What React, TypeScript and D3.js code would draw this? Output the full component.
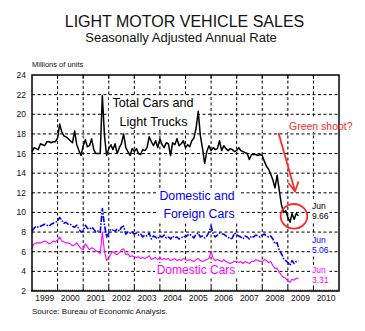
import React from "react";
import * as d3 from "d3";

const START_YEAR = 1999;
const yearLabels = ["1999","2000","2001","2002","2003","2004","2005","2006","2007","2008","2009","2010"];
const yTicks = [2,4,6,8,10,12,14,16,18,20,22,24];

// Monthly values, Jan 1999 - Jun 2009 (millions of units, SAAR)
const totalCarsTrucks = [
  16.2,16.6,16.5,16.4,17.0,16.9,16.8,17.2,17.2,17.1,17.2,17.2,
  17.6,19.0,18.2,17.8,17.7,17.5,17.3,17.1,18.3,16.9,16.3,15.8,
  16.8,17.4,16.7,16.8,17.5,16.4,16.0,16.0,16.0,21.9,17.8,15.8,
  16.5,16.9,16.4,17.0,16.0,16.6,17.0,18.0,16.6,16.2,15.8,16.5,
  16.2,16.5,16.0,15.9,16.4,16.3,16.6,17.7,17.2,16.8,17.3,16.6,
  17.5,16.9,16.6,17.1,17.0,15.8,17.1,16.9,17.5,16.8,17.0,17.3,
  16.6,16.9,16.7,17.3,17.6,18.6,20.3,17.8,16.5,15.0,16.2,16.8,
  16.3,16.6,16.4,16.5,17.3,16.3,16.8,16.5,16.3,16.5,16.4,16.2,
  16.3,16.6,16.3,16.2,16.1,16.0,15.4,15.9,15.9,15.9,15.8,15.9,
  15.8,15.2,14.7,14.4,13.9,13.3,12.5,13.8,12.2,10.8,10.0,10.2,
  9.5,9.0,9.9,9.3,9.9,9.66,
];

const domesticForeignCars = [
  8.1,8.4,8.6,8.5,8.6,8.7,8.8,8.7,8.6,8.8,8.9,9.0,
  9.1,9.5,9.2,8.9,9.0,8.8,8.8,8.6,8.5,8.7,8.3,8.0,
  8.1,8.7,8.4,8.3,8.5,8.3,8.0,8.1,8.0,10.4,8.7,7.5,
  7.9,8.3,8.2,8.1,8.3,8.1,8.5,8.6,7.8,8.0,7.9,8.0,
  7.8,7.9,7.7,7.8,7.5,7.7,7.6,7.9,7.3,7.6,7.5,7.3,
  7.6,7.5,7.7,7.4,7.5,7.3,7.6,7.4,7.5,7.3,7.4,7.6,
  7.5,7.7,7.8,7.6,7.4,7.8,7.9,7.5,7.6,7.4,7.6,8.0,
  8.6,7.8,7.5,7.7,7.9,7.8,7.8,7.6,7.5,7.3,7.4,7.9,
  7.7,7.6,7.5,7.3,7.6,7.5,7.3,7.6,7.5,7.7,7.6,7.5,
  7.7,7.8,7.6,7.5,7.6,7.3,6.8,6.9,6.1,5.8,5.3,5.1,
  4.9,4.6,5.1,4.8,5.0,5.06,
];

const domesticCars = [
  6.5,6.8,6.9,6.9,6.9,7.0,7.1,7.0,6.8,6.9,7.1,7.0,
  7.2,7.5,7.1,7.0,6.9,6.9,6.8,6.6,6.7,6.9,6.6,6.3,
  6.2,6.8,6.5,6.2,6.4,6.3,6.1,6.0,5.8,8.0,6.0,5.1,
  5.4,5.8,6.0,5.8,5.7,5.9,6.2,6.3,5.7,5.8,5.5,5.6,
  5.5,5.4,5.5,5.3,5.4,5.3,5.4,5.6,5.2,5.3,5.4,5.2,
  5.4,5.2,5.3,5.2,5.3,5.1,5.2,5.3,5.1,5.2,5.1,5.3,
  5.2,5.1,5.2,5.1,5.0,5.2,5.3,5.1,5.0,5.1,5.2,5.3,
  6.0,5.3,5.1,5.2,5.1,5.0,5.2,5.0,4.9,4.8,4.9,5.0,
  5.0,4.9,5.0,4.8,5.0,4.9,4.8,5.0,5.0,5.2,5.1,5.0,
  5.0,5.2,5.1,4.9,5.0,4.6,4.3,4.3,3.9,3.6,3.4,3.3,
  3.0,2.9,3.2,3.1,3.3,3.31,
];

const lastLabels = [
  { series: "total", text: "9.66", color: "#000000" },
  { series: "cars", text: "5.06", color: "#0000ff" },
  { series: "domestic", text: "3.31", color: "#ff00ff" },
];

const W = 365, H = 331;
const L = 32, R = 339, T = 75, B = 291;
const FONT = "'Liberation Sans', Arial, Helvetica, sans-serif";
const RED = "#ff2a2a";

export default function App() {
  const x = d3.scaleTime()
    .domain([new Date(START_YEAR, 0, 1), new Date(2011, 0, 1)])
    .range([L, R]);
  const y = d3.scaleLinear().domain([2, 24]).range([B, T]);
  const monthDate = (i: number) => new Date(START_YEAR, i, 1);
  const line = d3.line<number>()
    .x((_, i) => x(monthDate(i)))
    .y((d) => y(d));

  const yearBounds = d3.range(1, yearLabels.length).map((i) => new Date(START_YEAR + i, 0, 1));
  const months = d3.timeMonth.range(new Date(START_YEAR, 0, 1), new Date(2011, 0, 1));

  const lastX = x(monthDate(totalCarsTrucks.length - 1));
  const lastTotal = y(totalCarsTrucks[totalCarsTrucks.length - 1]);
  const endBases = [208.5, 243, 273];

  return (
    <svg width={W} height={H} style={{ position: "absolute", left: 0, top: 0, background: "#fff" }} fontFamily={FONT}>
      <rect x={0} y={0} width={W} height={H} fill="#fff" />
      <text x={184.5} y={27} textAnchor="middle" fontSize={16} fill="#111">LIGHT MOTOR VEHICLE SALES</text>
      <text x={181} y={41.5} textAnchor="middle" fontSize={13} fill="#111">Seasonally Adjusted Annual Rate</text>
      <text x={32} y={67} fontSize={7.5} fill="#111">Millions of units</text>

      {/* grid */}
      {yTicks.filter((t) => t > 2 && t < 24).map((t) => (
        <line key={"h" + t} x1={L} x2={R} y1={y(t)} y2={y(t)} stroke="#000" strokeWidth={1} strokeDasharray="3 2.5" />
      ))}
      {yearBounds.map((d, i) => (
        <line key={"v" + i} x1={x(d)} x2={x(d)} y1={T} y2={B} stroke="#000" strokeWidth={1} strokeDasharray="3 2.5" />
      ))}
      {/* minor month ticks at bottom */}
      {months.map((d, i) => (
        <line key={"m" + i} x1={x(d)} x2={x(d)} y1={B} y2={B - 1.5} stroke="#000" strokeWidth={0.6} />
      ))}
      {yearBounds.map((d, i) => (
        <g key={"t" + i}>
          <line x1={x(d)} x2={x(d)} y1={B} y2={B - 4} stroke="#000" strokeWidth={1} />
          <line x1={x(d)} x2={x(d)} y1={T} y2={T + 4} stroke="#000" strokeWidth={1} />
        </g>
      ))}

      {/* white boxes behind labels */}
      <rect x={109} y={96} width={88} height={33} fill="#fff" />
      <rect x={156} y={188} width={85} height={33} fill="#fff" />
      <rect x={155} y={263} width={83} height={14} fill="#fff" />
      <rect x={287} y={119} width={67} height={13} fill="#fff" />
      {endBases.map((b, i) => (
        <rect key={"wb" + i} x={310.5} y={b - 7.5} width={19} height={20} fill="#fff" />
      ))}

      {/* y labels */}
      {yTicks.map((t) => (
        <text key={"yl" + t} x={26} y={y(t) + 3} textAnchor="end" fontSize={8.5} fill="#111">{t}</text>
      ))}
      {/* x labels */}
      {yearLabels.map((lab, i) => (
        <text key={"xl" + lab} x={x(new Date(START_YEAR + i, 6, 1))} y={300.5} textAnchor="middle" fontSize={8.5} fill="#111">{lab}</text>
      ))}

      {/* series */}
      <path d={line(domesticCars) || ""} fill="none" stroke="#ff00ff" strokeWidth={1.1} strokeLinejoin="round" />
      <path d={line(domesticForeignCars) || ""} fill="none" stroke="#0000ff" strokeWidth={1.6} strokeDasharray="6 1.5 1.5 1.5" strokeLinejoin="round" />
      <path d={line(totalCarsTrucks) || ""} fill="none" stroke="#000" strokeWidth={1.5} strokeLinejoin="round" />

      {/* border */}
      <rect x={L} y={T} width={R - L} height={B - T} fill="none" stroke="#000" strokeWidth={1.5} />

      {/* series labels */}
      <text x={153} y={107} textAnchor="middle" fontSize={12.6} fill="#000">Total Cars and</text>
      <text x={153.5} y={125.5} textAnchor="middle" fontSize={12.6} fill="#000">Light Trucks</text>
      <text x={197} y={199.5} textAnchor="middle" fontSize={12.3} fill="#0000ff">Domestic and</text>
      <text x={199} y={217.5} textAnchor="middle" fontSize={12.3} fill="#0000ff">Foreign Cars</text>
      <text x={196} y={274} textAnchor="middle" fontSize={12} fill="#ff00ff">Domestic Cars</text>

      {/* end labels */}
      {lastLabels.map((l, i) => {
        const base = endBases[i];
        return (
          <g key={l.series}>
            <text x={312} y={base} fontSize={8.5} fill={l.color}>Jun</text>
            <text x={312} y={base + 10} fontSize={8.5} fill={l.color}>{l.text}</text>
          </g>
        );
      })}

      {/* annotation */}
      <text x={289} y={129.5} fontSize={10.5} fill={RED}>Green shoot?</text>
      <line x1={278.5} y1={133} x2={295} y2={191} stroke={RED} strokeWidth={1.8} />
      <polyline points="288.5,183 295,191.5 298.5,181.5" fill="none" stroke={RED} strokeWidth={1.8} />
      <ellipse cx={lastX - 4.5} cy={lastTotal + 0.5} rx={13.3} ry={12.3} fill="none" stroke={RED} strokeWidth={1.8} />

      <text x={32} y={314} fontSize={8} fill="#111">Source: Bureau of Economic Analysis.</text>
    </svg>
  );
}
